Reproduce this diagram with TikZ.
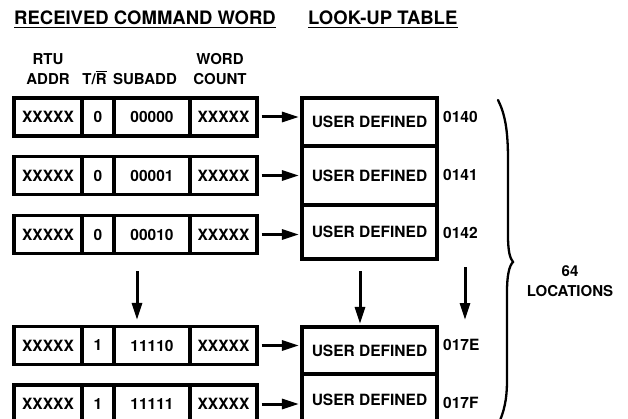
\documentclass[tikz,border=0pt]{standalone}
\usepackage{fontspec}
\setmainfont{TeX Gyre Heros}
\usepackage{tikz}
\usetikzlibrary{positioning}
\usetikzlibrary{arrows.meta}

\newcommand{\titlefont}{\fontsize{18.5}{22}\selectfont\bfseries}
\newcommand{\cellfont}{\fontsize{15.5}{18}\selectfont\bfseries}
\newcommand{\headfont}{\fontsize{15}{20}\selectfont\bfseries}
\newcommand{\barR}{{\setbox0\hbox{R}\rlap{\rule[\dimexpr\ht0+1.6pt]{\wd0}{1.4pt}}R}}

\tikzset{
  cell/.style={draw, line width=3.2pt, inner sep=0pt, minimum height=38pt, font=\cellfont},
  lut/.style={draw, line width=3.2pt, inner sep=0pt, minimum width=135pt, font=\cellfont},
  addr/.style={anchor=west, inner sep=0pt, font=\cellfont},
  hdr/.style={inner sep=0pt, align=center, font=\headfont},
  ttl/.style={anchor=base west, inner sep=0pt, font=\titlefont},
  arr/.style={-{Triangle[length=17pt, width=10pt]}, line width=3pt},
}

\begin{document}
\begin{tikzpicture}[x=1pt, y=-1pt]

\clip (0,0) rectangle (628,419);

% titles
\node[ttl] (ttlcmd) at (14,24.5) {RECEIVED COMMAND WORD};
\node[ttl] (ttllut) at (308,24.5) {LOOK-UP TABLE};
\draw[line width=1.7pt] ([yshift=-3pt]ttlcmd.base west) -- ([yshift=-3pt]ttlcmd.base east);
\draw[line width=1.7pt] ([yshift=-3pt]ttllut.base west) -- ([yshift=-3pt]ttllut.base east);

% field headers
\node[hdr] (hrtu) at (48,69) {RTU\\ADDR};
\node[hdr, anchor=base] (htr) at (94.5,85) {T/\barR};
\node[hdr, anchor=base] (hsub) at (145,85) {SUBADD};
\node[hdr] (hwc) at (220,69) {WORD\\COUNT};

% command words
\node[cell, minimum width=68pt] (cwa1) at (48,117) {XXXXX};
\node[cell, minimum width=32pt] (cwb1) at (98,117) {0};
\node[cell, minimum width=76pt] (cwc1) at (152,117) {00000};
\node[cell, minimum width=67pt] (cwd1) at (223.5,117) {XXXXX};

\node[cell, minimum width=68pt] (cwa2) at (48,175.5) {XXXXX};
\node[cell, minimum width=32pt] (cwb2) at (98,175.5) {0};
\node[cell, minimum width=76pt] (cwc2) at (152,175.5) {00001};
\node[cell, minimum width=67pt] (cwd2) at (223.5,175.5) {XXXXX};

\node[cell, minimum width=68pt] (cwa3) at (48,234.5) {XXXXX};
\node[cell, minimum width=32pt] (cwb3) at (98,234.5) {0};
\node[cell, minimum width=76pt] (cwc3) at (152,234.5) {00010};
\node[cell, minimum width=67pt] (cwd3) at (223.5,234.5) {XXXXX};

\node[cell, minimum width=68pt] (cwa4) at (48,345.5) {XXXXX};
\node[cell, minimum width=32pt] (cwb4) at (98,345.5) {1};
\node[cell, minimum width=76pt] (cwc4) at (152,345.5) {11110};
\node[cell, minimum width=67pt] (cwd4) at (223.5,345.5) {XXXXX};

\node[cell, minimum width=68pt] (cwa5) at (48,404) {XXXXX};
\node[cell, minimum width=32pt] (cwb5) at (98,404) {1};
\node[cell, minimum width=76pt] (cwc5) at (152,404) {11111};
\node[cell, minimum width=67pt] (cwd5) at (223.5,404) {XXXXX};

% look-up table
\node[lut, minimum height=48pt] (lut1) at (369.5,122) {USER DEFINED};
\node[lut, minimum height=59pt] (lut2) at (369.5,175.5) {USER DEFINED};
\node[lut, minimum height=54pt] (lut3) at (369.5,232) {USER DEFINED};
\node[lut, minimum height=47pt] (lut4) at (369.5,350.5) {USER DEFINED};
\node[lut, minimum height=52pt] (lut5) at (369.5,400) {USER DEFINED};

% addresses
\node[addr] (ad1) at (443,117) {0140};
\node[addr] (ad2) at (443,175) {0141};
\node[addr] (ad3) at (443,233) {0142};
\node[addr] (ad4) at (443,345) {017E};
\node[addr] (ad5) at (443,403) {017F};

% word -> table
\draw[arr, shorten <=3pt, shorten >=1.5pt] (cwd1.east) -- (cwd1.east -| lut1.west);
\draw[arr, shorten <=3pt, shorten >=1.5pt] (cwd2.east) -- (cwd2.east -| lut2.west);
\draw[arr, shorten <=3pt, shorten >=1.5pt] (cwd3.east) -- (cwd3.east -| lut3.west);
\draw[arr, shorten <=3pt, shorten >=1.5pt] (cwd4.east) -- (cwd4.east -| lut4.west);
\draw[arr, shorten <=3pt, shorten >=1.5pt] (cwd5.east) -- (cwd5.east -| lut5.west);

% continuation arrows
\coordinate (gapa) at (137,271);
\coordinate (gapb) at (360,271);
\coordinate (gapc) at (465,267);
\coordinate (gapd) at (465,320);
\draw[arr, shorten >=5pt] (gapa) -- (gapa |- cwc4.north);
\draw[arr, shorten >=1.5pt] (gapb) -- (gapb |- lut4.north);
\draw[arr] (gapc) -- (gapd);

% brace
\draw[line width=2.3pt, line cap=round]
  (498,100) .. controls (505,114) and (508,130) .. (508,160)
  -- (508,235) .. controls (508,252) and (510,258) .. (513,262)
  .. controls (509,266) and (507,276) .. (507,292)
  -- (507,380) .. controls (507,400) and (504,412) .. (498,425);

\node[hdr, align=center] (nloc) at (570,281) {\baselineskip=22pt 64\\LOCATIONS};

\end{tikzpicture}
\end{document}
